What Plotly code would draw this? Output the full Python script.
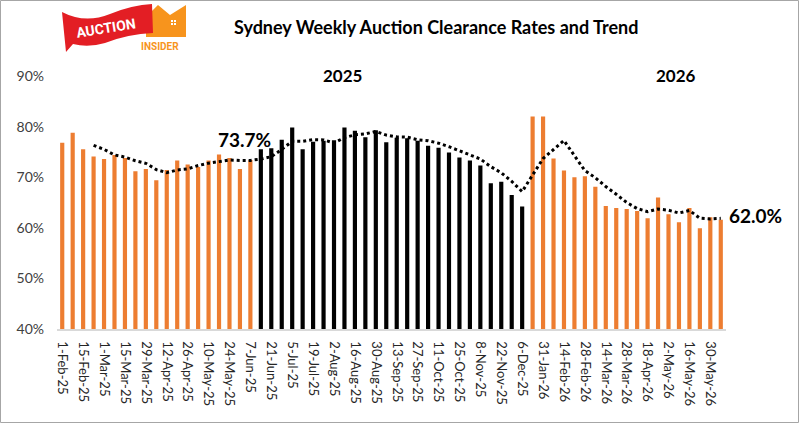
import plotly.graph_objects as go

# ---------------- data ----------------
dates_h1 = ["1-Feb-25", "8-Feb-25", "15-Feb-25", "22-Feb-25", "1-Mar-25", "8-Mar-25",
            "15-Mar-25", "22-Mar-25", "29-Mar-25", "5-Apr-25", "12-Apr-25", "19-Apr-25",
            "26-Apr-25", "3-May-25", "10-May-25", "17-May-25", "24-May-25", "31-May-25",
            "7-Jun-25"]
rates_h1 = [76.8, 78.8, 75.5, 74.1, 73.6, 74.4, 73.8, 71.2, 71.6, 69.4, 71.4, 73.3,
            72.5, 72.0, 73.3, 74.5, 73.8, 71.6, 73.4]

dates_h2 = ["14-Jun-25", "21-Jun-25", "28-Jun-25", "5-Jul-25", "12-Jul-25", "19-Jul-25",
            "26-Jul-25", "2-Aug-25", "9-Aug-25", "16-Aug-25", "23-Aug-25", "30-Aug-25",
            "6-Sep-25", "13-Sep-25", "20-Sep-25", "27-Sep-25", "4-Oct-25", "11-Oct-25",
            "18-Oct-25", "25-Oct-25", "1-Nov-25", "8-Nov-25", "15-Nov-25", "22-Nov-25",
            "29-Nov-25", "6-Dec-25"]
rates_h2 = [75.5, 75.7, 77.4, 79.8, 75.5, 77.0, 77.2, 77.3, 79.8, 79.2, 77.9, 79.3,
            76.9, 77.8, 77.7, 77.2, 76.2, 75.8, 74.9, 73.9, 73.3, 72.3, 68.8, 69.1,
            66.5, 64.2]

dates_26 = ["24-Jan-26", "31-Jan-26", "7-Feb-26", "14-Feb-26", "21-Feb-26", "28-Feb-26",
            "7-Mar-26", "14-Mar-26", "21-Mar-26", "28-Mar-26", "11-Apr-26", "18-Apr-26",
            "25-Apr-26", "2-May-26", "9-May-26", "16-May-26", "23-May-26", "30-May-26",
            "6-Jun-26"]
rates_26 = [82.0, 82.0, 73.7, 71.3, 70.0, 70.2, 68.1, 64.3, 63.9, 63.7, 63.3, 61.9,
            66.0, 62.7, 61.1, 63.9, 59.9, 62.1, 61.6]

y_ticks = [40, 50, 60, 70, 80, 90]
y_tick_text = ["40%", "50%", "60%", "70%", "80%", "90%"]
trend_window = 4
trend_labels = ["73.7%", "62.0%"]
year_labels = ["2025", "2026"]
title_text = "Sydney Weekly Auction Clearance Rates and Trend"

# ---------------- derived ----------------
all_dates = dates_h1 + dates_h2 + dates_26
all_rates = rates_h1 + rates_h2 + rates_26
trend_x, trend_y = [], []
for i in range(trend_window - 1, len(all_rates)):
    trend_x.append(all_dates[i])
    trend_y.append(sum(all_rates[i - trend_window + 1:i + 1]) / trend_window)

# ---------------- layout geometry ----------------
WIDTH, HEIGHT = 800, 424
L, R, T, B = 57, 74, 76, 95
PW = WIDTH - L - R
PH = HEIGHT - T - B


def PX(x):
    return (x - L) / PW


def PY(y):
    return (HEIGHT - B - y) / PH


ORANGE = "#ED7D31"
BLACK = "#000000"

fig = go.Figure()
for xs, ys, col in [(dates_h1, rates_h1, ORANGE), (dates_h2, rates_h2, BLACK),
                    (dates_26, rates_26, ORANGE)]:
    fig.add_trace(go.Bar(x=xs, y=ys, marker=dict(color=col, line=dict(width=0)),
                         width=0.4, showlegend=False, hoverinfo="x+y"))

fig.add_trace(go.Scatter(x=trend_x, y=trend_y, mode="lines",
                         line=dict(color="black", width=3, dash="dot"),
                         showlegend=False, hoverinfo="skip"))

annotations = []
# title
annotations.append(dict(x=PX(436), y=PY(27), xref="paper", yref="paper", text=title_text,
                        showarrow=False, xanchor="center", yanchor="middle",
                        font=dict(family="Lato", size=18, color="black", weight="bold")))
# year labels
for txt, xp in zip(year_labels, [342, 676]):
    annotations.append(dict(x=PX(xp), y=PY(75), xref="paper", yref="paper", text=txt,
                            showarrow=False, xanchor="center", yanchor="middle",
                            font=dict(family="Lato", size=17, color="black", weight="bold")))
# trend labels
for txt, (xp, yp) in zip(trend_labels, [(244, 139), (755, 215.5)]):
    annotations.append(dict(x=PX(xp), y=PY(yp), xref="paper", yref="paper", text=txt,
                            showarrow=False, xanchor="center", yanchor="middle",
                            font=dict(family="Lato", size=19, color="black", weight="bold")))
# logo texts
annotations.append(dict(x=PX(106), y=PY(28), xref="paper", yref="paper", text="AUCTION",
                        showarrow=False, xanchor="center", yanchor="middle", textangle=-9,
                        font=dict(family="Roboto", size=14, color="white", weight="bold")))
annotations.append(dict(x=PX(160), y=PY(46), xref="paper", yref="paper", text="INSIDER",
                        showarrow=False, xanchor="center", yanchor="middle",
                        font=dict(family="Roboto", size=10, color="#F7941D", weight="bold")))


def path_from(cmds):
    out = []
    for c in cmds:
        if c[0] == "Z":
            out.append("Z")
        elif c[0] == "Q":
            out.append("Q %.5f,%.5f %.5f,%.5f" % (PX(c[1]), PY(c[2]), PX(c[3]), PY(c[4])))
        else:
            out.append("%s %.5f,%.5f" % (c[0], PX(c[1]), PY(c[2])))
    return " ".join(out)


shapes = []
# house (behind flag)
shapes.append(dict(type="path", xref="paper", yref="paper",
                   path=path_from([("M", 146, 37), ("L", 146, 17), ("L", 158, 5), ("L", 170, 15),
                                   ("L", 186, 5), ("L", 186, 37), ("Z",)]),
                   fillcolor="#F7941D", line=dict(width=0), layer="above"))
for dx, dy in [(0, 0), (3, 0), (0, 3), (3, 3)]:
    shapes.append(dict(type="rect", xref="paper", yref="paper",
                       x0=PX(171 + dx), x1=PX(173 + dx), y0=PY(20 + dy), y1=PY(22 + dy),
                       fillcolor="white", line=dict(width=0), layer="above"))
# red flag
shapes.append(dict(type="path", xref="paper", yref="paper",
                   path=path_from([("M", 62, 12), ("Q", 85, 24, 110, 14), ("Q", 132, 5, 152, 4),
                                   ("L", 153, 33), ("Q", 128, 34, 105, 43),
                                   ("Q", 88, 48, 73, 44), ("L", 66, 52), ("Z",)]),
                   fillcolor="#E31E24", line=dict(width=0), layer="above"))
# outer frame
shapes.append(dict(type="rect", xref="paper", yref="paper",
                   x0=PX(0.5), x1=PX(798.5), y0=PY(422.5), y1=PY(0.5),
                   line=dict(color="#A6A6A6", width=1), fillcolor="rgba(0,0,0,0)",
                   layer="above"))

fig.update_layout(
    width=WIDTH, height=HEIGHT,
    margin=dict(l=L, r=R, t=T, b=B, autoexpand=False),
    paper_bgcolor="white", plot_bgcolor="white",
    barmode="overlay",
    showlegend=False,
    annotations=annotations,
    shapes=shapes,
    xaxis=dict(type="category", categoryorder="array", categoryarray=all_dates,
               range=[-0.5, len(all_dates) - 0.5],
               tickmode="array", tickvals=all_dates[::2], ticktext=all_dates[::2],
               tickangle=90, ticks="", showgrid=False, zeroline=False,
               showline=True, linecolor="#D9D9D9", linewidth=1.5,
               ticklabelstandoff=8,
               tickfont=dict(family="Lato", size=13, color="#262626")),
    yaxis=dict(range=[40, 90], tickmode="array", tickvals=y_ticks, ticktext=y_tick_text,
               ticks="", showgrid=False, zeroline=False, showline=False,
               ticklabelstandoff=12,
               tickfont=dict(family="Lato", size=14, color="#404040")),
)

fig.write_html("out.html")
